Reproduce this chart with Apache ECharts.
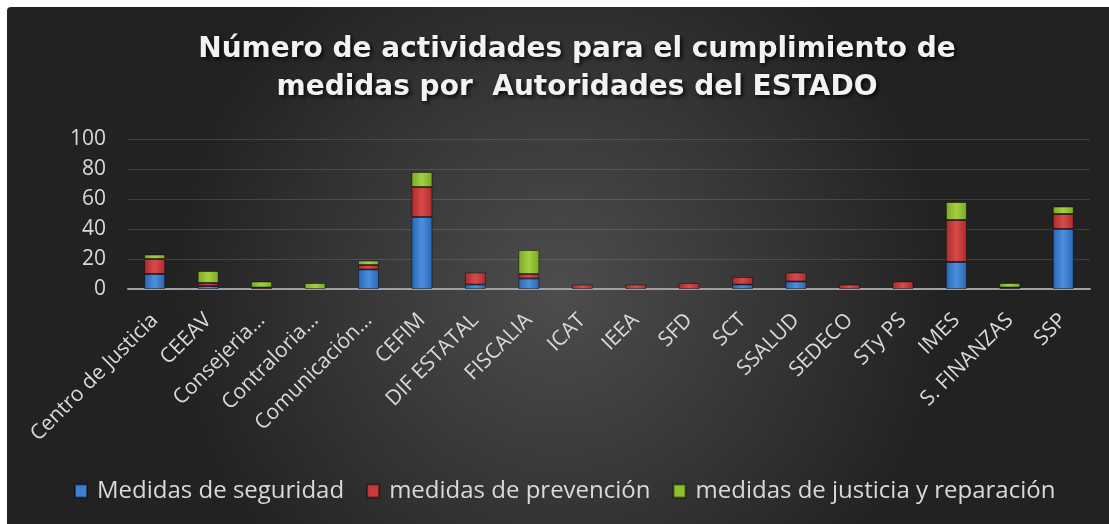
<!DOCTYPE html>
<html>
<head>
<meta charset="utf-8">
<script src="https://cdn.jsdelivr.net/npm/echarts@6/dist/echarts.min.js"></script>
<style>
html,body{margin:0;padding:0;background:#fff;}
#chart{width:1109px;height:524px;}
</style>
</head>
<body>
<div id="chart"></div>
<script>
var categories = ['Centro de Justicia','CEEAV','Consejeria…','Contraloria…','Comunicación…','CEFIM','DIF ESTATAL','FISCALIA','ICAT','IEEA','SFD','SCT','SSALUD','SEDECO','STy PS','IMES','S. FINANZAS','SSP'];
var seriesNames = ['Medidas de seguridad','medidas de prevención','medidas de justicia y reparación'];
var seguridad  = [10, 2, 0, 0, 13, 48, 3, 7, 0, 0, 0, 3, 5, 0, 0, 18, 1, 40];
var prevencion = [10, 2, 1, 0, 3, 20, 8, 3, 3, 3, 4, 5, 6, 3, 5, 28, 0, 10];
var justicia   = [3, 8, 4, 4, 3, 10, 0, 16, 0, 0, 0, 0, 0, 0, 0, 12, 3, 5];
var yTicks = [0, 20, 40, 60, 80, 100];

var FONT = '"Open Sans", "DejaVu Sans", sans-serif';
function grad(edge, mid) {
  return new echarts.graphic.LinearGradient(0, 0, 1, 0, [
    {offset: 0, color: edge}, {offset: 0.5, color: mid}, {offset: 1, color: edge}
  ]);
}
var colors = [
  {edge: '#2a64b0', mid: '#4a90e0', legend: '#3f7fd0'},
  {edge: '#a82c2c', mid: '#d84a4a', legend: '#c83a3a'},
  {edge: '#78a828', mid: '#a4d040', legend: '#8fbf30'}
];
function toData(arr) { return arr.map(function (v) { return v === 0 ? '-' : v; }); }

var chart = echarts.init(document.getElementById('chart'), null, {renderer: 'canvas'});
var option = {
  backgroundColor: '#ffffff',
  animation: false,
  graphic: [{
    type: 'rect', z: -10, silent: true,
    shape: {x: 7, y: 7, width: 1102, height: 517, r: [4, 0, 0, 0]},
    style: {
      fill: new echarts.graphic.RadialGradient(0.5, 0.55, 0.75, [
        {offset: 0, color: '#4d4d4d'}, {offset: 1, color: '#222222'}
      ])
    }
  }],
  title: {
    text: 'Número de actividades para el cumplimiento de\nmedidas por  Autoridades del ESTADO',
    left: 572, top: 26, textAlign: 'center',
    textStyle: {
      color: '#f2f2f2', fontFamily: '"DejaVu Sans", sans-serif', fontWeight: 'bold', fontSize: 28, lineHeight: 38,
      textShadowColor: 'rgba(0,0,0,0.85)', textShadowBlur: 4, textShadowOffsetX: 2, textShadowOffsetY: 2
    }
  },
  legend: {
    bottom: 16, left: 69,
    itemWidth: 12, itemHeight: 13, itemGap: 22, icon: 'rect',
    textStyle: {color: '#d9d9d9', fontFamily: FONT, fontSize: 24, padding: [0, 0, 0, 5]}
  },
  grid: {left: 128, right: 19, top: 139, bottom: 235, containLabel: false},
  xAxis: {
    type: 'category', data: categories,
    axisLine: {lineStyle: {color: '#a0a0a0', width: 2}},
    axisTick: {show: false},
    axisLabel: {rotate: 45, color: '#d9d9d9', fontFamily: FONT, fontSize: 21, margin: 28, interval: 0}
  },
  yAxis: {
    type: 'value', min: yTicks[0], max: yTicks[yTicks.length - 1], interval: 20,
    axisLine: {show: false}, axisTick: {show: false},
    splitLine: {lineStyle: {color: 'rgba(255,255,255,0.13)', width: 1}},
    axisLabel: {color: '#d9d9d9', fontFamily: FONT, fontSize: 21, margin: 22}
  },
  series: [seguridad, prevencion, justicia].map(function (arr, i) {
    return {
      name: seriesNames[i], type: 'bar', stack: 'total', barWidth: 21,
      data: toData(arr),
      itemStyle: {color: grad(colors[i].edge, colors[i].mid), borderColor: 'rgba(0,0,0,0.45)', borderWidth: 1}
    };
  })
};
option.legend.data = seriesNames.map(function (n, i) { return {name: n, itemStyle: {color: colors[i].legend}}; });
chart.setOption(option);
</script>
</body>
</html>
